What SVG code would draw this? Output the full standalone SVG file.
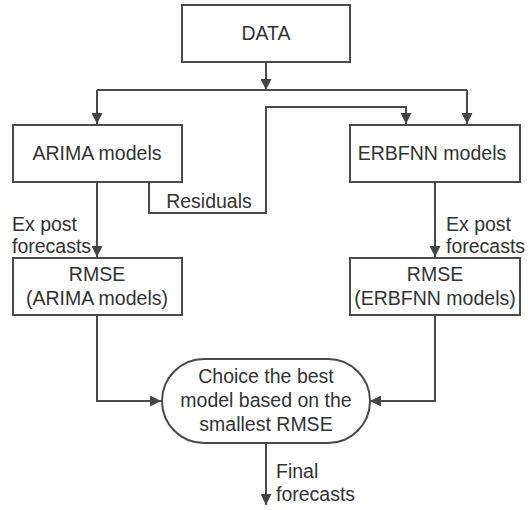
<svg xmlns="http://www.w3.org/2000/svg" width="528" height="510" viewBox="0 0 528 510">
<defs>
<marker id="arr" viewBox="0 0 10 10" refX="10" refY="5" markerWidth="11" markerHeight="11" markerUnits="userSpaceOnUse" orient="auto">
<path d="M0,0 L10,5 L0,10 z" fill="#444"/>
</marker>
</defs>
<style>
.box{fill:#fff;stroke:#4a4a4a;stroke-width:2}
.ln{fill:none;stroke:#4a4a4a;stroke-width:2}
text{font-family:"Liberation Sans",Arial,sans-serif;font-size:19.5px;fill:#333}
.c{text-anchor:middle}
</style>
<rect width="528" height="510" fill="#fff"/>
<g id="connectors">
<path class="ln" d="M266,62 V90" marker-end="url(#arr)"/>
<path class="ln" d="M97,90 H467"/>
<path class="ln" d="M97,90 V124" marker-end="url(#arr)"/>
<path class="ln" d="M467,90 V124" marker-end="url(#arr)"/>
<path class="ln" d="M149,182 V213 H266 V107 H406 V124" marker-end="url(#arr)"/>
<path class="ln" d="M97,182 V257" marker-end="url(#arr)"/>
<path class="ln" d="M435,182 V257" marker-end="url(#arr)"/>
<path class="ln" d="M97,315 V401 H161" marker-end="url(#arr)"/>
<path class="ln" d="M435,315 V401 H370" marker-end="url(#arr)"/>
<path class="ln" d="M266,443 V505" marker-end="url(#arr)"/>
<text x="209" y="208" class="c">Residuals</text>
<text x="12" y="231">Ex post</text>
<text x="12" y="253">forecasts</text>
<text x="446" y="231">Ex post</text>
<text x="446" y="253">forecasts</text>
<text x="276" y="478">Final</text>
<text x="276" y="501">forecasts</text>
</g>
<g id="data">
<rect class="box" x="182" y="5" width="168" height="57"/>
<text x="266" y="40" class="c">DATA</text>
</g>
<g id="arima">
<rect class="box" x="13" y="125" width="169" height="57"/>
<text x="97" y="160" class="c">ARIMA models</text>
</g>
<g id="erbfnn">
<rect class="box" x="350" y="125" width="170" height="57"/>
<text x="432" y="160" class="c">ERBFNN models</text>
</g>
<g id="rmse-arima">
<rect class="box" x="13" y="258" width="169" height="57"/>
<text x="97" y="281" class="c">RMSE</text>
<text x="97" y="305" class="c">(ARIMA models)</text>
</g>
<g id="rmse-erbfnn">
<rect class="box" x="350" y="258" width="170" height="57"/>
<text x="435" y="281" class="c">RMSE</text>
<text x="435" y="305" class="c">(ERBFNN models)</text>
</g>
<g id="choice">
<rect class="box" x="162" y="359" width="208" height="84" rx="42" ry="42"/>
<text x="266" y="383" class="c">Choice the best</text>
<text x="266" y="407" class="c">model based on the</text>
<text x="266" y="431" class="c">smallest RMSE</text>
</g>
</svg>
